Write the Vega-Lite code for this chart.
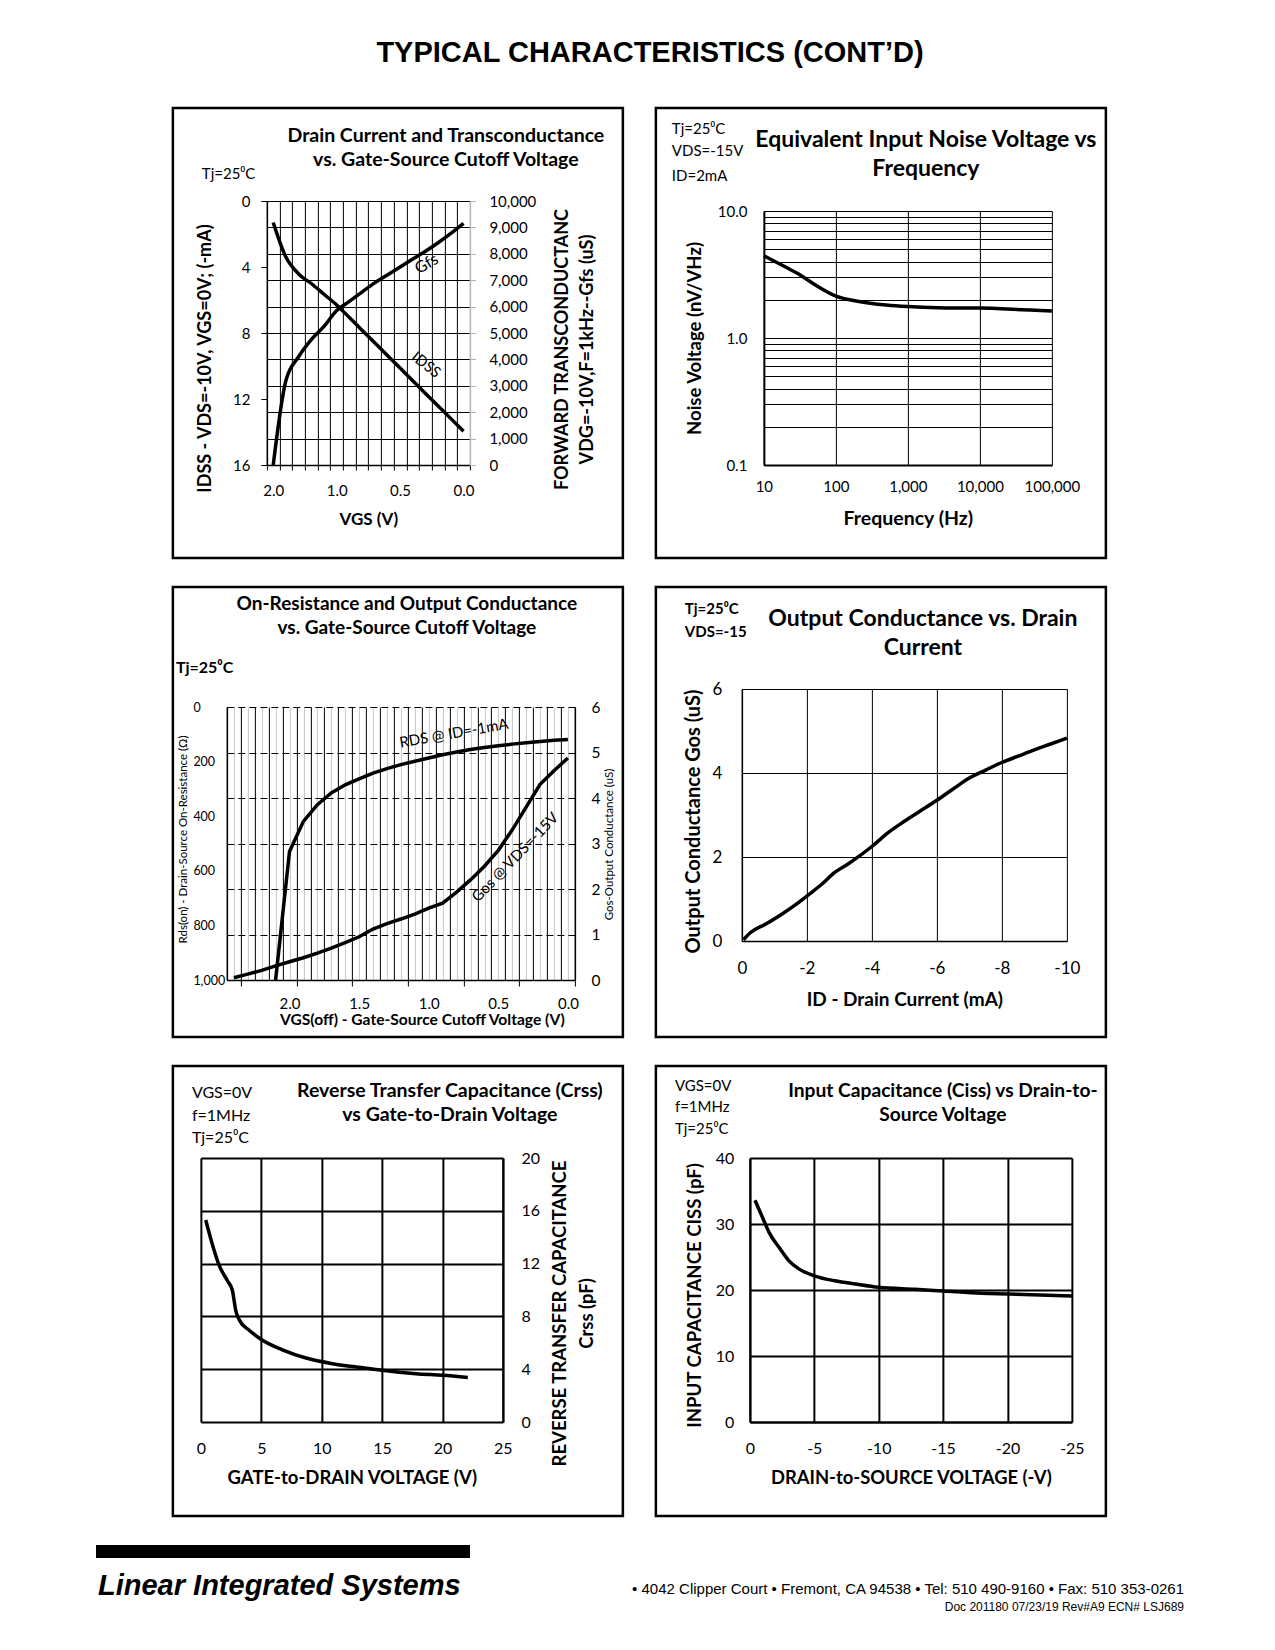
{
"$schema": "https://vega.github.io/schema/vega-lite/v6.json",
"background": "white",
"padding": {"left": 96, "top": 38, "right": 5, "bottom": 5},
"title": {"text": "TYPICAL CHARACTERISTICS (CONT’D)", "font": "Liberation Sans", "fontSize": 29, "fontWeight": "bold", "anchor": "middle", "dx": 10, "offset": 39, "color": "black"},
"datasets": {
 "p1": [{"VGS":2.0,"IDSS":1.3,"Gfs":0},{"VGS":1.8,"IDSS":3.4,"Gfs":3200},{"VGS":1.6,"IDSS":4.42,"Gfs":4100},{"VGS":1.4,"IDSS":5.0,"Gfs":4750},{"VGS":1.2,"IDSS":5.65,"Gfs":5250},{"VGS":1.0,"IDSS":6.3,"Gfs":5850},{"VGS":0.9,"IDSS":7.06,"Gfs":6200},{"VGS":0.8,"IDSS":7.83,"Gfs":6550},{"VGS":0.7,"IDSS":8.59,"Gfs":6900},{"VGS":0.6,"IDSS":9.36,"Gfs":7200},{"VGS":0.5,"IDSS":10.12,"Gfs":7500},{"VGS":0.4,"IDSS":10.89,"Gfs":7800},{"VGS":0.3,"IDSS":11.66,"Gfs":8100},{"VGS":0.2,"IDSS":12.42,"Gfs":8420},{"VGS":0.1,"IDSS":13.19,"Gfs":8770},{"VGS":0.0,"IDSS":13.95,"Gfs":9150}],
 "p2": [{"freq":10,"noise":4.44},{"freq":20,"noise":3.62},{"freq":30,"noise":3.2},{"freq":50,"noise":2.65},{"freq":100,"noise":2.14},{"freq":200,"noise":1.95},{"freq":300,"noise":1.88},{"freq":500,"noise":1.82},{"freq":1000,"noise":1.77},{"freq":2000,"noise":1.74},{"freq":5000,"noise":1.72},{"freq":10000,"noise":1.72},{"freq":20000,"noise":1.7},{"freq":50000,"noise":1.66},{"freq":100000,"noise":1.63}],
 "p3": [{"VGS":2.4,"RDS":null,"Gos":0.05},{"VGS":2.3,"RDS":null,"Gos":0.13},{"VGS":2.2,"RDS":null,"Gos":0.21},{"VGS":2.1,"RDS":1000,"Gos":0.31},{"VGS":2.0,"RDS":529,"Gos":0.40},{"VGS":1.9,"RDS":419,"Gos":0.49},{"VGS":1.8,"RDS":358,"Gos":0.59},{"VGS":1.7,"RDS":315,"Gos":0.70},{"VGS":1.6,"RDS":285,"Gos":0.82},{"VGS":1.5,"RDS":263,"Gos":0.95},{"VGS":1.4,"RDS":242,"Gos":1.12},{"VGS":1.3,"RDS":226,"Gos":1.24},{"VGS":1.2,"RDS":211,"Gos":1.34},{"VGS":1.1,"RDS":199,"Gos":1.45},{"VGS":1.0,"RDS":187,"Gos":1.58},{"VGS":0.9,"RDS":175,"Gos":1.69},{"VGS":0.8,"RDS":165,"Gos":1.93},{"VGS":0.7,"RDS":156,"Gos":2.2},{"VGS":0.6,"RDS":148,"Gos":2.5},{"VGS":0.5,"RDS":142,"Gos":2.85},{"VGS":0.4,"RDS":136,"Gos":3.3},{"VGS":0.3,"RDS":131,"Gos":3.8},{"VGS":0.2,"RDS":126,"Gos":4.3},{"VGS":0.1,"RDS":122,"Gos":4.6},{"VGS":0.0,"RDS":119,"Gos":4.88}],
 "p4": [{"ID":-0.05,"Gos":0.03},{"ID":-0.25,"Gos":0.19},{"ID":-0.75,"Gos":0.41},{"ID":-1.25,"Gos":0.65},{"ID":-1.75,"Gos":0.92},{"ID":-2.0,"Gos":1.07},{"ID":-2.5,"Gos":1.38},{"ID":-2.8,"Gos":1.6},{"ID":-3.3,"Gos":1.85},{"ID":-4.0,"Gos":2.25},{"ID":-4.5,"Gos":2.58},{"ID":-5.0,"Gos":2.85},{"ID":-5.5,"Gos":3.1},{"ID":-6.0,"Gos":3.35},{"ID":-6.5,"Gos":3.62},{"ID":-7.0,"Gos":3.88},{"ID":-7.5,"Gos":4.07},{"ID":-8.0,"Gos":4.25},{"ID":-8.5,"Gos":4.4},{"ID":-9.0,"Gos":4.55},{"ID":-9.5,"Gos":4.69},{"ID":-10.0,"Gos":4.83}],
 "p5": [{"VGD":0.4,"Crss":15.3},{"VGD":1.0,"Crss":13.3},{"VGD":1.5,"Crss":11.9},{"VGD":2.2,"Crss":10.7},{"VGD":2.6,"Crss":10.0},{"VGD":2.9,"Crss":8.4},{"VGD":3.2,"Crss":7.7},{"VGD":4.0,"Crss":6.95},{"VGD":5.0,"Crss":6.25},{"VGD":6.8,"Crss":5.45},{"VGD":8.7,"Crss":4.85},{"VGD":10.9,"Crss":4.42},{"VGD":13.7,"Crss":4.08},{"VGD":15.0,"Crss":3.92},{"VGD":17.8,"Crss":3.66},{"VGD":20.0,"Crss":3.54},{"VGD":22.1,"Crss":3.38}],
 "p6": [{"VDS":-0.4,"Ciss":33.6},{"VDS":-1.0,"Ciss":30.9},{"VDS":-1.5,"Ciss":28.7},{"VDS":-2.25,"Ciss":26.5},{"VDS":-3.0,"Ciss":24.5},{"VDS":-3.8,"Ciss":23.2},{"VDS":-5.0,"Ciss":22.15},{"VDS":-6.6,"Ciss":21.4},{"VDS":-8.2,"Ciss":20.9},{"VDS":-10.0,"Ciss":20.4},{"VDS":-12.8,"Ciss":20.1},{"VDS":-15.0,"Ciss":19.85},{"VDS":-18.0,"Ciss":19.5},{"VDS":-20.0,"Ciss":19.4},{"VDS":-25.0,"Ciss":19.1}]
},
"vconcat": [
 {"vconcat": [
  {"hconcat": [
   {"width": 450, "height": 450,
    "view": {"stroke": "black", "strokeWidth": 2.5},
    "title": {"text": ["Drain Current and Transconductance", "vs. Gate-Source Cutoff Voltage"], "frame": "group", "anchor": "middle", "dx": 48, "offset": -62, "fontSize": 19.5, "lineHeight": 24},
    "layer": [
     {"layer": [
      {"data": {"name": "p1"},
       "mark": {"type": "line", "interpolate": "monotone", "strokeWidth": 3.5, "color": "black"},
       "encoding": {
        "x": {"field": "VGS", "type": "quantitative",
          "scale": {"domain": [2.1, 1.0, -0.05], "range": [94, 163.78, 297], "nice": false, "zero": false},
          "axis": {"orient": "bottom", "offset": -93,
            "values": [2.1,1.9,1.7,1.5,1.3,1.1,0.95,0.85,0.75,0.65,0.55,0.45,0.35,0.25,0.15,0.05,-0.05,2,1,0.5,0],
            "grid": false, "tickSize": 5,
            "tickOpacity": {"condition": {"test": "indexof([2,1,0.5,0], datum.value) >= 0", "value": 0}, "value": 1},
            "labelExpr": "indexof([2,1,0.5,0], datum.value) >= 0 ? format(datum.value, '.1f') : ''",
            "labelPadding": 13.5, "labelFontSize": 15,
            "title": "VGS (V)", "titleFontSize": 17, "titlePadding": 13}},
        "y": {"field": "IDSS", "type": "quantitative",
          "scale": {"domain": [0, 16], "range": [93, 357], "nice": false, "zero": false},
          "axis": {"orient": "left", "offset": -94, "values": [0,4,8,12,16], "grid": false, "tickSize": 6, "labelPadding": 11, "labelFontSize": 15,
            "title": "IDSS - VDS=-10V, VGS=0V; (-mA)", "titleFontSize": 18, "titlePadding": 18, "titleY": 250}}
       }},
      {"data": {"values": [{"t": "Tj=25⁰C", "VGS": 3.125, "IDSS": -1.33}]},
       "mark": {"type": "text", "align": "left", "baseline": "alphabetic", "fontSize": 15},
       "encoding": {
        "x": {"field": "VGS", "type": "quantitative",
          "axis": {"orient": "top", "offset": -93, "values": [2.1,1.9,1.7,1.5,1.3,1.1,0.95,0.85,0.75,0.65,0.55,0.45,0.35,0.25,0.15,0.05], "grid": true, "domain": false, "ticks": false, "labels": false, "title": null, "minExtent": 0, "maxExtent": 0}},
        "y": {"field": "IDSS", "type": "quantitative", "axis": null}, "text": {"field": "t"}}},
      {"data": {"values": [{"t": "IDSS", "VGS": 0.294, "IDSS": 9.92}]},
       "mark": {"type": "text", "align": "center", "baseline": "middle", "angle": 38, "fontSize": 15},
       "encoding": {"x": {"field": "VGS", "type": "quantitative", "axis": null}, "y": {"field": "IDSS", "type": "quantitative", "axis": null}, "text": {"field": "t"}}}
     ], "resolve": {"axis": {"x": "independent", "y": "independent"}}},
     {"layer": [
      {"data": {"name": "p1"},
       "mark": {"type": "line", "interpolate": "monotone", "strokeWidth": 3.5, "color": "black"},
       "encoding": {
        "x": {"field": "VGS", "type": "quantitative", "axis": null},
        "y": {"field": "Gfs", "type": "quantitative",
          "scale": {"domain": [0, 10000], "range": [357, 93], "nice": false, "zero": false},
          "axis": {"orient": "right", "offset": -153, "values": [0,1000,2000,3000,4000,5000,6000,7000,8000,9000,10000], "format": ",d", "grid": false,
            "domainColor": "#b4b4b4", "tickColor": "#b4b4b4", "tickSize": 6, "labelPadding": 13, "labelFontSize": 15,
            "title": ["FORWARD TRANSCONDUCTANC", "VDG=-10V,F=1kHz--Gfs (uS)"], "titleAngle": 270, "titleFontSize": 18, "titleLineHeight": 25, "titlePadding": 11, "titleY": 241}}
       }},
      {"data": {"values": [{"t": "Gfs", "VGS": 0.29, "Gfs": 7620}]},
       "mark": {"type": "text", "align": "center", "baseline": "middle", "angle": 330, "fontSize": 16},
       "encoding": {
        "x": {"field": "VGS", "type": "quantitative", "axis": null},
        "y": {"field": "Gfs", "type": "quantitative",
          "axis": {"orient": "left", "offset": -94, "values": [1000,2000,3000,4000,5000,6000,7000,8000,9000,10000], "grid": true, "domain": false, "ticks": false, "labels": false, "title": null, "minExtent": 0, "maxExtent": 0}},
        "text": {"field": "t"}}}
     ], "resolve": {"axis": {"x": "independent", "y": "independent"}}}
    ],
    "resolve": {"scale": {"y": "independent"}, "axis": {"x": "independent", "y": "independent"}}
   },
   {"width": 450, "height": 450,
    "view": {"stroke": "black", "strokeWidth": 2.5},
    "title": {"text": ["Equivalent Input Noise Voltage vs", "Frequency"], "frame": "group", "anchor": "middle", "dx": 45, "offset": -73, "fontSize": 23, "lineHeight": 29},
    "layer": [
     {"data": {"name": "p2"},
      "mark": {"type": "line", "interpolate": "monotone", "strokeWidth": 3.5, "color": "black"},
      "encoding": {
       "x": {"field": "freq", "type": "quantitative",
         "scale": {"type": "log", "domain": [10, 100000], "range": [108, 396], "nice": false},
         "axis": {"orient": "bottom", "offset": -93, "values": [10,100,1000,10000,100000], "format": ",", "grid": false, "ticks": false, "tickSize": 0,
           "labelPadding": 14.5, "labelFontSize": 15, "domainWidth": 2,
           "title": "Frequency (Hz)", "titleFontSize": 19.5, "titlePadding": 15}},
       "y": {"field": "noise", "type": "quantitative",
         "scale": {"type": "log", "domain": [0.1, 10], "range": [357, 103], "nice": false},
         "axis": {"orient": "left", "offset": -108, "values": [0.1,0.2,0.3,0.4,0.5,0.6,0.7,0.8,0.9,1,2,3,4,5,6,7,8,9,10], "grid": true, "ticks": false, "tickSize": 0,
           "labelExpr": "(datum.value == 0.1 || datum.value == 1 || datum.value == 10) ? format(datum.value, '.1f') : ''",
           "labelPadding": 17, "labelFontSize": 15, "domainWidth": 2,
           "title": "Noise Voltage (nV/VHz)", "titleFontSize": 18.5, "titlePadding": 13}}
      }},
     {"data": {"values": [{"t": "Tj=25⁰C", "freq": 0.527, "noise": 40.5}, {"t": "VDS=-15V", "freq": 0.527, "noise": 27.2}, {"t": "ID=2mA", "freq": 0.527, "noise": 17.3}]},
      "mark": {"type": "text", "align": "left", "baseline": "alphabetic", "fontSize": 15},
      "encoding": {
       "x": {"field": "freq", "type": "quantitative",
         "axis": {"orient": "top", "offset": -103, "values": [10,100,1000,10000,100000], "grid": true, "domain": false, "ticks": false, "labels": false, "title": null, "minExtent": 0, "maxExtent": 0}},
       "y": {"field": "noise", "type": "quantitative", "axis": null}, "text": {"field": "t"}}}
    ],
    "resolve": {"axis": {"x": "independent", "y": "independent"}}
   }
  ], "spacing": 33, "bounds": "flush"},
  {"hconcat": [
   {"width": 450, "height": 450,
    "view": {"stroke": "black", "strokeWidth": 2.5},
    "title": {"text": ["On-Resistance and Output Conductance", "vs. Gate-Source Cutoff Voltage"], "frame": "group", "anchor": "middle", "dx": 9, "offset": -51, "fontSize": 19, "lineHeight": 24},
    "layer": [
     {"layer": [
      {"data": {"name": "p3"},
       "mark": {"type": "line", "strokeWidth": 3.5, "color": "black"},
       "encoding": {
        "x": {"field": "VGS", "type": "quantitative",
          "scale": {"domain": [2.45, -0.05], "range": [54, 402], "nice": false, "zero": false},
          "axis": {"orient": "bottom", "offset": -57,
            "values": [2.35,1.95,1.55,1.15,0.75,0.35,-0.05,2,1.5,1,0.5,0],
            "grid": false, "tickSize": 6,
            "tickOpacity": {"condition": {"test": "abs(datum.value*2 - round(datum.value*2)) < 0.01", "value": 0}, "value": 1},
            "labelExpr": "abs(datum.value*2 - round(datum.value*2)) < 0.01 ? format(datum.value, '.1f') : ''",
            "labelPadding": 10.5, "labelFontSize": 15,
            "title": "VGS(off) - Gate-Source Cutoff Voltage (V)", "titleFontSize": 15.6, "titlePadding": 1, "titleX": 249}},
        "y": {"field": "RDS", "type": "quantitative",
          "scale": {"domain": [0, 1000], "range": [120, 393], "nice": false, "zero": false},
          "axis": {"orient": "left", "offset": -54, "values": [0,200,400,600,800,1000], "format": ",d", "grid": false, "ticks": false, "tickSize": 0,
            "labelAlign": "left", "labelPadding": 34, "labelFontSize": 12.5,
            "title": "Rds(on) - Drain-Source On-Resistance (Ω)", "titleFontSize": 11.5, "titleFontWeight": "normal", "titlePadding": 4, "titleY": 252}}
       }},
      {"data": {"values": [{"t": "Tj=25⁰C", "VGS": 2.816, "RDS": -124.5}]},
       "mark": {"type": "text", "align": "left", "baseline": "alphabetic", "fontSize": 16, "fontWeight": "bold"},
       "encoding": {
        "x": {"field": "VGS", "type": "quantitative",
          "axis": {"orient": "top", "offset": -120, "values": [2.45,2.35,2.25,2.15,2.05,1.95,1.85,1.75,1.65,1.55,1.45,1.35,1.25,1.15,1.05,0.95,0.85,0.75,0.65,0.55,0.45,0.35,0.25,0.15,0.05,-0.05], "grid": true, "domain": false, "ticks": false, "labels": false, "title": null, "minExtent": 0, "maxExtent": 0}},
        "y": {"field": "RDS", "type": "quantitative", "axis": null}, "text": {"field": "t"}}},
      {"data": {"values": [{"t": "RDS @ ID=-1mA", "VGS": 0.819, "RDS": 96}]},
       "mark": {"type": "text", "align": "center", "baseline": "middle", "angle": 350, "fontSize": 15},
       "encoding": {
        "x": {"field": "VGS", "type": "quantitative",
          "axis": {"orient": "top", "offset": -120, "values": [2.4,2.3,2.2,2.1,2,1.9,1.8,1.7,1.6,1.5,1.4,1.3,1.2,1.1,1,0.9,0.8,0.7,0.6,0.5,0.4,0.3,0.2,0.1,0], "grid": true, "gridColor": "#c8c8c8", "domain": false, "ticks": false, "labels": false, "title": null, "minExtent": 0, "maxExtent": 0}},
        "y": {"field": "RDS", "type": "quantitative", "axis": null}, "text": {"field": "t"}}}
     ], "resolve": {"axis": {"x": "independent", "y": "independent"}}},
     {"layer": [
      {"data": {"name": "p3"},
       "mark": {"type": "line", "strokeWidth": 3.5, "color": "black"},
       "encoding": {
        "x": {"field": "VGS", "type": "quantitative", "axis": null},
        "y": {"field": "Gos", "type": "quantitative",
          "scale": {"domain": [0, 6], "range": [393, 120], "nice": false, "zero": false},
          "axis": {"orient": "right", "offset": -48, "values": [0,1,2,3,4,5,6], "format": "d", "grid": false, "ticks": false, "tickSize": 0,
            "labelPadding": 16, "labelFontSize": 15.5,
            "title": "Gos-Output Conductance (uS)", "titleAngle": 270, "titleFontSize": 11.5, "titleFontWeight": "normal", "titlePadding": 15, "titleY": 257}}
       }},
      {"data": {"values": [{"t": "Gos @ VDS=-15V", "VGS": 0.38, "Gos": 2.7}]},
       "mark": {"type": "text", "align": "center", "baseline": "middle", "angle": 314, "fontSize": 15},
       "encoding": {
        "x": {"field": "VGS", "type": "quantitative", "axis": null},
        "y": {"field": "Gos", "type": "quantitative",
          "axis": {"orient": "left", "offset": -54, "values": [1,2,3,4,5,6], "grid": true, "gridDash": [7, 4], "domain": false, "ticks": false, "labels": false, "title": null, "minExtent": 0, "maxExtent": 0}},
        "text": {"field": "t"}}}
     ], "resolve": {"axis": {"x": "independent", "y": "independent"}}}
    ],
    "resolve": {"scale": {"y": "independent"}, "axis": {"x": "independent", "y": "independent"}}
   },
   {"width": 450, "height": 450,
    "view": {"stroke": "black", "strokeWidth": 2.5},
    "title": {"text": ["Output Conductance vs. Drain", "Current"], "frame": "group", "anchor": "middle", "dx": 42, "offset": -73, "fontSize": 23, "lineHeight": 29},
    "layer": [
     {"data": {"name": "p4"},
      "mark": {"type": "line", "interpolate": "monotone", "strokeWidth": 3.5, "color": "black"},
      "encoding": {
       "x": {"field": "ID", "type": "quantitative",
         "scale": {"domain": [0, -10], "range": [86, 411], "nice": false, "zero": false},
         "axis": {"orient": "bottom", "offset": -96, "values": [0,-2,-4,-6,-8,-10], "grid": false, "ticks": false, "tickSize": 0,
           "labelExpr": "replace(datum.label, '−', '-')",
           "labelPadding": 19.5, "labelFontSize": 17,
           "title": "ID - Drain Current (mA)", "titleFontSize": 19, "titlePadding": 14}},
       "y": {"field": "Gos", "type": "quantitative",
         "scale": {"domain": [0, 6], "range": [354, 102], "nice": false, "zero": false},
         "axis": {"orient": "left", "offset": -86, "values": [0,2,4,6], "format": "d", "grid": true, "ticks": false, "tickSize": 0,
           "labelPadding": 20, "labelFontSize": 17,
           "title": "Output Conductance Gos (uS)", "titleFontSize": 20, "titlePadding": 9, "titleY": 234}}
      }},
     {"data": {"values": [{"t": "Tj=25⁰C", "ID": 1.754, "Gos": 7.786}, {"t": "VDS=-15", "ID": 1.754, "Gos": 7.238}]},
      "mark": {"type": "text", "align": "left", "baseline": "alphabetic", "fontSize": 15, "fontWeight": "bold"},
      "encoding": {
       "x": {"field": "ID", "type": "quantitative",
         "axis": {"orient": "top", "offset": -102, "values": [0,-2,-4,-6,-8,-10], "grid": true, "domain": false, "ticks": false, "labels": false, "title": null, "minExtent": 0, "maxExtent": 0}},
       "y": {"field": "Gos", "type": "quantitative", "axis": null}, "text": {"field": "t"}}}
    ],
    "resolve": {"axis": {"x": "independent", "y": "independent"}}
   }
  ], "spacing": 33, "bounds": "flush"},
  {"hconcat": [
   {"width": 450, "height": 450,
    "view": {"stroke": "black", "strokeWidth": 2.5},
    "title": {"text": ["Reverse Transfer Capacitance (Crss)", "vs Gate-to-Drain Voltage"], "frame": "group", "anchor": "middle", "dx": 52, "offset": -59, "fontSize": 19.5, "lineHeight": 24},
    "layer": [
     {"data": {"name": "p5"},
      "mark": {"type": "line", "interpolate": "monotone", "strokeWidth": 3.5, "color": "black"},
      "encoding": {
       "x": {"field": "VGD", "type": "quantitative",
         "scale": {"domain": [0, 25], "range": [28, 330], "nice": false, "zero": false},
         "axis": {"orient": "bottom", "offset": -94, "values": [0,5,10,15,20,25], "grid": false, "ticks": false, "tickSize": 0, "domainWidth": 2,
           "labelPadding": 18, "labelFontSize": 16,
           "title": "GATE-to-DRAIN VOLTAGE (V)", "titleFontSize": 18.5, "titlePadding": 12}},
       "y": {"field": "Crss", "type": "quantitative",
         "scale": {"domain": [0, 20], "range": [356, 92], "nice": false, "zero": false},
         "axis": {"orient": "right", "offset": -120, "values": [0,4,8,12,16,20], "grid": false, "ticks": false, "tickSize": 0, "domainWidth": 2,
           "labelPadding": 18, "labelFontSize": 16,
           "title": ["REVERSE TRANSFER CAPACITANCE", "Crss (pF)"], "titleAngle": 270, "titleFontSize": 18.5, "titleLineHeight": 27, "titlePadding": 3, "titleY": 247}}
      }},
     {"data": {"values": [{"t": "VGS=0V", "VGD": -0.745, "Crss": 24.55}, {"t": "f=1MHz", "VGD": -0.745, "Crss": 22.8}, {"t": "Tj=25⁰C", "VGD": -0.745, "Crss": 21.14}]},
      "mark": {"type": "text", "align": "left", "baseline": "alphabetic", "fontSize": 16},
      "encoding": {
       "x": {"field": "VGD", "type": "quantitative",
         "axis": {"orient": "top", "offset": -92, "values": [0,5,10,15,20,25], "grid": true, "gridWidth": 2, "domain": false, "ticks": false, "labels": false, "title": null, "minExtent": 0, "maxExtent": 0}},
       "y": {"field": "Crss", "type": "quantitative",
         "axis": {"orient": "left", "offset": -28, "values": [4,8,12,16,20], "grid": true, "gridWidth": 2, "domain": false, "ticks": false, "labels": false, "title": null, "minExtent": 0, "maxExtent": 0}},
       "text": {"field": "t"}}}
    ],
    "resolve": {"axis": {"x": "independent", "y": "independent"}}
   },
   {"width": 450, "height": 450,
    "view": {"stroke": "black", "strokeWidth": 2.5},
    "title": {"text": ["Input Capacitance (Ciss) vs Drain-to-", "Source Voltage"], "frame": "group", "anchor": "middle", "dx": 62, "offset": -59, "fontSize": 19.2, "lineHeight": 24},
    "layer": [
     {"data": {"name": "p6"},
      "mark": {"type": "line", "interpolate": "monotone", "strokeWidth": 3.5, "color": "black"},
      "encoding": {
       "x": {"field": "VDS", "type": "quantitative",
         "scale": {"domain": [0, -25], "range": [94, 416], "nice": false, "zero": false},
         "axis": {"orient": "bottom", "offset": -94, "values": [0,-5,-10,-15,-20,-25], "grid": false, "ticks": false, "tickSize": 0, "domainWidth": 2,
           "labelExpr": "replace(datum.label, '−', '-')",
           "labelPadding": 18, "labelFontSize": 16,
           "title": "DRAIN-to-SOURCE VOLTAGE (-V)", "titleFontSize": 18.4, "titlePadding": 12}},
       "y": {"field": "Ciss", "type": "quantitative",
         "scale": {"domain": [0, 40], "range": [356, 92], "nice": false, "zero": false},
         "axis": {"orient": "left", "offset": -94, "values": [0,10,20,30,40], "grid": true, "gridWidth": 2, "ticks": false, "tickSize": 0, "domainWidth": 2,
           "labelPadding": 16, "labelFontSize": 16,
           "title": "INPUT CAPACITANCE CISS (pF)", "titleFontSize": 18.6, "titlePadding": 11, "titleY": 229}}
      }},
     {"data": {"values": [{"t": "VGS=0V", "VDS": 5.82, "Ciss": 50.15}, {"t": "f=1MHz", "VDS": 5.82, "Ciss": 46.97}, {"t": "Tj=25⁰C", "VDS": 5.82, "Ciss": 43.64}]},
      "mark": {"type": "text", "align": "left", "baseline": "alphabetic", "fontSize": 15},
      "encoding": {
       "x": {"field": "VDS", "type": "quantitative",
         "axis": {"orient": "top", "offset": -92, "values": [0,-5,-10,-15,-20,-25], "grid": true, "gridWidth": 2, "domain": false, "ticks": false, "labels": false, "title": null, "minExtent": 0, "maxExtent": 0}},
       "y": {"field": "Ciss", "type": "quantitative", "axis": null}, "text": {"field": "t"}}}
    ],
    "resolve": {"axis": {"x": "independent", "y": "independent"}}
   }
  ], "spacing": 33, "bounds": "flush"}
 ], "spacing": 25, "bounds": "full"},
 {"hconcat": [
  {"width": 374, "height": 13,
   "view": {"fill": "black", "stroke": null},
   "data": {"values": []},
   "mark": {"type": "text"},
   "title": {"text": "Linear Integrated Systems", "orient": "bottom", "anchor": "start", "frame": "group", "font": "Liberation Sans", "fontSize": 29, "fontStyle": "italic", "fontWeight": "bold", "offset": 14, "dx": 2}},
  {"width": 714, "height": 13,
   "data": {"values": []},
   "mark": {"type": "text"},
   "title": {"text": "• 4042 Clipper Court • Fremont, CA 94538 • Tel: 510 490-9160 • Fax: 510 353-0261", "subtitle": "Doc 201180  07/23/19  Rev#A9  ECN# LSJ689", "orient": "bottom", "anchor": "end", "frame": "group", "font": "Liberation Sans", "fontSize": 15, "fontWeight": "normal", "subtitleFont": "Liberation Sans", "subtitleFontSize": 12, "subtitlePadding": 5, "offset": 24, "dx": 0}}
 ], "spacing": 0, "bounds": "flush"}
],
"spacing": 27,
"center": true,
"bounds": "full",
"config": {
 "font": "Lato",
 "view": {"stroke": null},
 "mark": {"color": "black"},
 "text": {"color": "black", "font": "Lato"},
 "title": {"font": "Lato", "fontWeight": "bold", "color": "black", "subtitleColor": "black"},
 "axis": {"labelFont": "Lato", "titleFont": "Lato", "labelColor": "black", "titleColor": "black", "domainColor": "black", "tickColor": "black", "gridColor": "black", "gridOpacity": 1, "gridWidth": 1, "domainWidth": 1.5, "tickWidth": 1, "titleFontWeight": "bold", "labelFontWeight": "normal", "labelFlush": false, "labelOverlap": false, "labelBound": false, "labelLimit": 0}
}
}
